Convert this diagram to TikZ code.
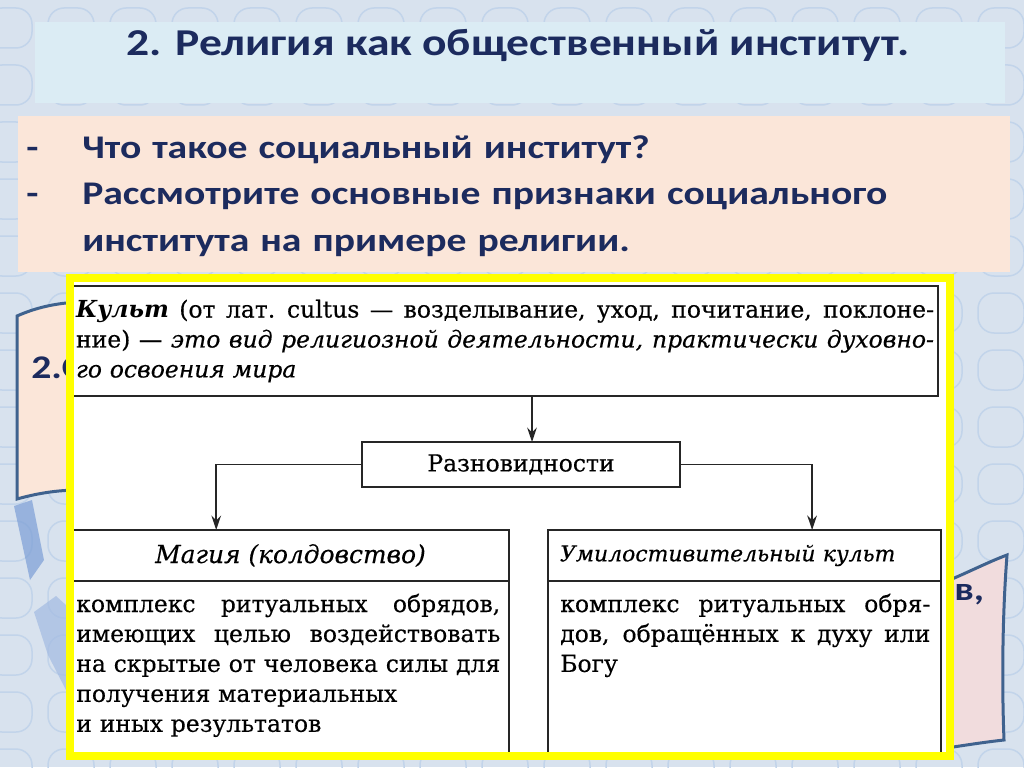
\documentclass[tikz,border=0pt]{standalone}
\usepackage{fontspec}
\setmainfont{DejaVu Serif}[UprightFeatures={FakeBold=0.4}, ItalicFeatures={FakeBold=0.4}]
\newfontfamily\slidefont[FakeStretch=1.2]{Carlito}
\usetikzlibrary{arrows.meta, positioning, calc}

\definecolor{slidebg}{HTML}{D8E2EE}
\definecolor{ovalline}{HTML}{C2D4EA}
\definecolor{titlefill}{HTML}{DBECF4}
\definecolor{peach}{HTML}{FBE6D9}
\definecolor{rosefill}{HTML}{F1DCDD}
\definecolor{navy}{HTML}{1C2B5E}
\definecolor{scrollline}{HTML}{3F628E}
\definecolor{ribbonblue}{HTML}{7C9ED6}
\definecolor{frameyellow}{HTML}{FFFF00}

\newlength{\pxl}
\setlength{\pxl}{0.25mm}
\newcommand{\schemefont}{\fontsize{16.7}{21.3}\selectfont}
% a line stretched to a given width
\newcommand{\justline}[2]{\makebox[#1][s]{\spaceskip=0.3em plus 3em minus 0.05em\relax #2}}

\begin{document}
\begin{tikzpicture}[
  x=0.25mm, y=-0.25mm,
  slidetext/.style={font=\slidefont\bfseries\fontsize{23.5}{33.4}\selectfont, text=navy, inner sep=0pt, align=left},
  schemebox/.style={draw=black!85, line width=1.8\pxl, fill=white, inner sep=0pt, outer sep=0pt, font=\schemefont, text=black},
  schemetext/.style={inner sep=0pt, align=left, font=\schemefont, text=black},
  schemearrow/.style={-{Stealth[length=3.6mm, width=2.4mm]}, line width=0.45mm, draw=black!85},
]
  \useasboundingbox (0,0) rectangle (1024,767);

  % === Background ===
  \fill[slidebg] (0,0) rectangle (1024,767);
  \foreach \col in {0,...,16}
    \foreach \row in {0,...,13}
      \draw[ovalline, line width=1.5\pxl, rounded corners=16\pxl]
        ({\col*62-14}, {\row*57+8}) rectangle ++(46,40);
  \fill[ribbonblue, opacity=0.7] (14,506) -- (32,500) -- (44,560) -- (30,580) -- cycle;
  \fill[ribbonblue!70, opacity=0.7] (34,612) -- (56,596) -- (66,605) -- (66,690) -- (48,655) -- cycle;

  % === Title ===
  \node[fill=titlefill, minimum width=970\pxl, minimum height=81\pxl, inner sep=0pt] (titlebox) at (520, 62.5) {};
  \node[slidetext, font=\slidefont\bfseries\fontsize{27}{32}\selectfont, anchor=base] (title) at (518, 56)
    {2. Религия как общественный институт.};

  % === Questions ===
  \node[fill=peach, minimum width=992\pxl, minimum height=156\pxl, inner sep=0pt] (questbox) at (514, 194) {};
  \node[slidetext, text width=960\pxl, anchor=base west] (questions) at (26, 158)
    {\makebox[56\pxl][l]{-}Что такое социальный институт?\\
     \makebox[56\pxl][l]{-}Рассмотрите основные признаки социального\\
     \hspace*{56\pxl}института на примере религии.};

  % === Scrolls behind the panel ===
  \draw[scrollline, line width=3\pxl, fill=peach]
    (17,316) .. controls (35,308) and (55,303) .. (80,302) -- (80,490)
    .. controls (55,490) and (35,494) .. (17,499) -- cycle;
  \node[slidetext, anchor=base west] (leftcut) at (31, 378) {2.С};
  \draw[scrollline, line width=3\pxl, fill=rosefill]
    (940,584) .. controls (965,574) and (988,562) .. (1007,555)
    .. controls (1002,620) and (1002,690) .. (1004,740)
    .. controls (985,742) and (960,746) .. (940,749) -- cycle;
  \node[slidetext, anchor=base west] (rightcut) at (954, 600) {в,};

  % === Panel ===
  \node[fill=white, minimum width=880\pxl, minimum height=478\pxl, inner sep=0pt, outer sep=0pt] (panel) at (510, 517) {};

  % === Cult ===
  \node[schemebox, text width=858\pxl, inner xsep=4\pxl, minimum height=110\pxl, align=left] (cult) at (505, 341)
    {\justline{858\pxl}{\textbf{\textit{Культ}} (от лат. cultus — возделывание, уход, почитание, поклоне-}\\
     \justline{858\pxl}{ние) — \textit{это вид религиозной деятельности, практически духовно-}}\\
     \textit{го освоения мира}};

  % === Kinds ===
  \node[schemebox, minimum width=318\pxl, minimum height=45\pxl] (razn) at (521, 464.5) {Разновидности};

  % === Magic ===
  \node[schemebox, minimum width=437\pxl, minimum height=51\pxl, anchor=north west,
        font=\fontsize{17.7}{21.3}\selectfont] (magia) at (72, 530)
    {\textit{Магия (колдовство)}};
  \node[schemebox, minimum width=437\pxl, minimum height=172\pxl, anchor=north] (magiabody) at (magia.south) {};
  \node[schemetext, text width=424\pxl, anchor=base west] (magiatext) at ($(magiabody.north west)+(4,31)$)
    {\justline{424\pxl}{комплекс ритуальных обрядов,}\\
     \justline{424\pxl}{имеющих целью воздействовать}\\
     \justline{424\pxl}{на скрытые от человека силы для}\\
     получения материальных\\
     и иных результатов};

  % === Propitiatory cult ===
  \node[schemebox, minimum width=393\pxl, minimum height=51\pxl, anchor=north west,
        text width=369\pxl, align=left, font=\fontsize{15.6}{21.3}\selectfont] (umil) at (548, 530)
    {\textit{Умилостивительный культ}};
  \node[schemebox, minimum width=393\pxl, minimum height=172\pxl, anchor=north] (umilbody) at (umil.south) {};
  \node[schemetext, text width=370\pxl, anchor=base west] (umiltext) at ($(umilbody.north west)+(12,31)$)
    {\justline{370\pxl}{комплекс ритуальных обря-}\\
     \justline{370\pxl}{дов, обращённых к духу или}\\
     Богу};

  % === Arrows ===
  \coordinate (kindsin) at ($(razn.north)+(11,0)$);
  \draw[schemearrow] (kindsin |- cult.south) -- (kindsin);
  \draw[schemearrow] (razn.west) -| ($(magia.north west)!0.33!(magia.north east)$);
  \draw[schemearrow] (razn.east) -| ($(umil.north west)!0.672!(umil.north east)$);

  % === Yellow frame ===
  \draw[frameyellow, line width=8\pxl] (panel.north west) rectangle (panel.south east);
\end{tikzpicture}
\end{document}
